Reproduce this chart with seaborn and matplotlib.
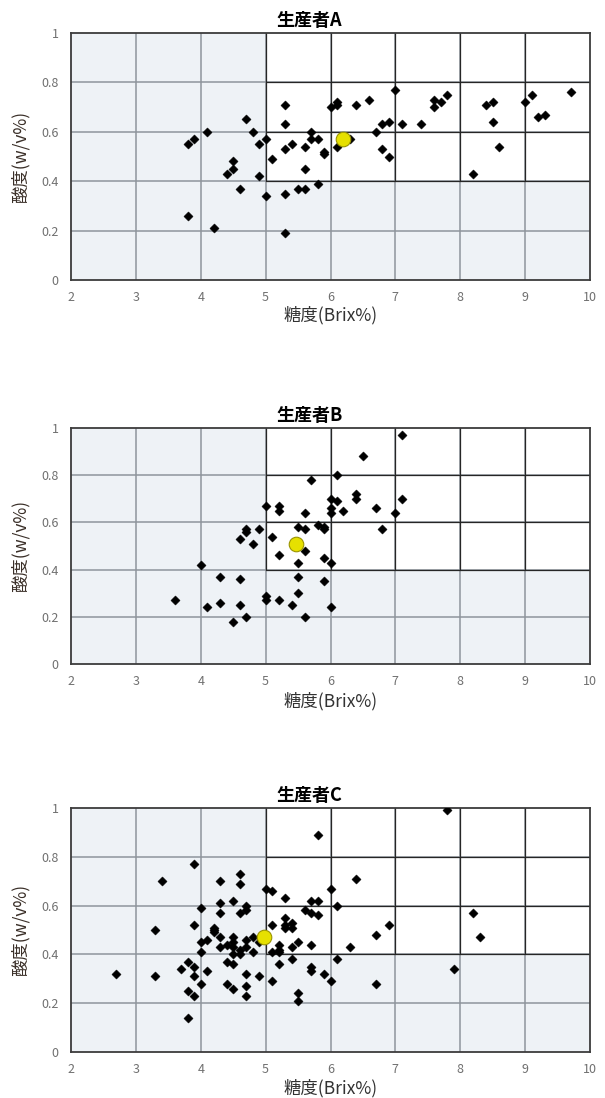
import seaborn as sns
import pandas as pd
import matplotlib.pyplot as plt
from matplotlib.patches import Rectangle

# 生産者A
a_brix = [3.8, 3.9, 4.1, 3.8, 4.2, 4.4, 4.5, 4.5, 4.6, 4.7, 4.8, 4.9, 4.9, 5.0, 5.0,
          5.1, 5.3, 5.3, 5.3, 5.3, 5.3, 5.4, 5.5, 5.6, 5.6, 5.6, 5.7, 5.7, 5.8, 5.8,
          5.9, 5.9, 6.0, 6.1, 6.1, 6.1, 6.3, 6.4, 6.6, 6.7, 6.8, 6.8, 6.9, 6.9, 7.0,
          7.1, 7.4, 7.6, 7.6, 7.7, 7.8, 8.2, 8.4, 8.5, 8.5, 8.6, 9.0, 9.1, 9.2, 9.3, 9.7]
a_acid = [0.55, 0.57, 0.60, 0.26, 0.21, 0.43, 0.48, 0.45, 0.37, 0.65, 0.60, 0.55, 0.42, 0.57, 0.34,
          0.49, 0.71, 0.63, 0.53, 0.35, 0.19, 0.55, 0.37, 0.37, 0.54, 0.45, 0.60, 0.57, 0.57, 0.39,
          0.52, 0.51, 0.70, 0.72, 0.71, 0.54, 0.57, 0.71, 0.73, 0.60, 0.63, 0.53, 0.64, 0.50, 0.77,
          0.63, 0.63, 0.73, 0.70, 0.72, 0.75, 0.43, 0.71, 0.72, 0.64, 0.54, 0.72, 0.75, 0.66, 0.67, 0.76]
a_mean = (6.2, 0.57)

# 生産者B
b_brix = [3.6, 4.0, 4.1, 4.3, 4.3, 4.5, 4.6, 4.6, 4.6, 4.7, 4.7, 4.7, 4.8, 4.9, 5.0,
          5.0, 5.0, 5.1, 5.2, 5.2, 5.2, 5.2, 5.4, 5.5, 5.5, 5.5, 5.5, 5.6, 5.6, 5.6,
          5.6, 5.7, 5.8, 5.9, 5.9, 5.9, 5.9, 6.0, 6.0, 6.0, 6.0, 6.0, 6.1, 6.1, 6.2,
          6.4, 6.4, 6.5, 6.7, 6.8, 7.0, 7.1, 7.1]
b_acid = [0.27, 0.42, 0.24, 0.37, 0.26, 0.18, 0.36, 0.25, 0.53, 0.57, 0.56, 0.20, 0.51, 0.57, 0.67,
          0.29, 0.27, 0.54, 0.67, 0.65, 0.46, 0.27, 0.25, 0.58, 0.43, 0.37, 0.30, 0.64, 0.57, 0.48,
          0.20, 0.78, 0.59, 0.58, 0.57, 0.45, 0.35, 0.70, 0.66, 0.64, 0.43, 0.24, 0.80, 0.69, 0.65,
          0.72, 0.70, 0.88, 0.66, 0.57, 0.64, 0.70, 0.97]
b_mean = (5.47, 0.51)

# 生産者C
c_brix = [2.7, 3.3, 3.3, 3.4, 3.7, 3.8, 3.8, 3.8, 3.9, 3.9, 3.9, 3.9, 3.9, 4.0, 4.0,
          4.0, 4.0, 4.1, 4.1, 4.2, 4.2, 4.2, 4.3, 4.3, 4.3, 4.3, 4.3, 4.4, 4.4, 4.4,
          4.5, 4.5, 4.5, 4.5, 4.5, 4.5, 4.5, 4.6, 4.6, 4.6, 4.6, 4.6, 4.7, 4.7, 4.7,
          4.7, 4.7, 4.7, 4.7, 4.8, 4.8, 4.9, 4.9, 5.0, 5.1, 5.1, 5.1, 5.1, 5.2, 5.2,
          5.2, 5.2, 5.3, 5.3, 5.3, 5.3, 5.4, 5.4, 5.4, 5.4, 5.5, 5.5, 5.5, 5.6, 5.7,
          5.7, 5.7, 5.7, 5.7, 5.8, 5.8, 5.8, 5.9, 6.0, 6.0, 6.1, 6.1, 6.3, 6.4, 6.7,
          6.7, 6.9, 7.8, 7.9, 8.2, 8.3]
c_acid = [0.32, 0.31, 0.50, 0.70, 0.34, 0.37, 0.25, 0.14, 0.77, 0.52, 0.35, 0.31, 0.23, 0.59, 0.45,
          0.41, 0.28, 0.33, 0.46, 0.51, 0.50, 0.49, 0.70, 0.61, 0.57, 0.47, 0.43, 0.44, 0.37, 0.28,
          0.62, 0.47, 0.45, 0.43, 0.40, 0.36, 0.26, 0.73, 0.69, 0.57, 0.42, 0.40, 0.60, 0.58, 0.46,
          0.43, 0.32, 0.27, 0.23, 0.47, 0.41, 0.45, 0.31, 0.67, 0.66, 0.52, 0.41, 0.29, 0.44, 0.42,
          0.41, 0.36, 0.63, 0.55, 0.52, 0.51, 0.53, 0.51, 0.43, 0.38, 0.45, 0.24, 0.21, 0.58, 0.62,
          0.57, 0.44, 0.35, 0.33, 0.62, 0.56, 0.89, 0.32, 0.67, 0.29, 0.60, 0.38, 0.43, 0.71, 0.48,
          0.28, 0.52, 0.99, 0.34, 0.57, 0.47]
c_mean = (4.98, 0.47)

titles = ['生産者A', '生産者B', '生産者C']
x_label = '糖度(Brix%)'
y_label = '酸度(w/v%)'
x_ticks = [2, 3, 4, 5, 6, 7, 8, 9, 10]
y_ticks = [0, 0.2, 0.4, 0.6, 0.8, 1.0]
y_tick_labels = ['0', '0.2', '0.4', '0.6', '0.8', '1']

sns.set_style('white')
plt.rcParams['font.family'] = ['Noto Sans CJK JP', 'DejaVu Sans']

SHADE = '#eef2f6'


def panel(ax, brix, acid, mean, title, xlabel_y):
    df = pd.DataFrame({'brix': brix, 'acid': acid})
    ax.set_xlim(2, 10)
    ax.set_ylim(0, 1)
    ax.set_facecolor(SHADE)
    # white quadrant: brix >= 5 and acid >= 0.4
    ax.add_patch(Rectangle((5, 0.4), 5, 0.6, facecolor='white', edgecolor='none', zorder=0.5))
    for x in x_ticks[1:-1]:
        ax.axvline(x, color='#8e959c', lw=1.1, zorder=1)
        if x >= 5:
            ax.plot([x, x], [0.4, 1], color='#262626', lw=0.9, zorder=1.1)
    for y in y_ticks[1:-1]:
        ax.axhline(y, color='#8e959c', lw=1.1, zorder=1)
        if y >= 0.4:
            ax.plot([5, 10], [y, y], color='#262626', lw=0.9, zorder=1.1)

    sns.scatterplot(data=df, x='brix', y='acid', marker='D', s=22, color='black',
                    edgecolor='black', linewidth=0.3, ax=ax, zorder=3)
    sns.scatterplot(x=[mean[0]], y=[mean[1]], marker='o', s=110, color='#e6e000',
                    edgecolor='#9a9400', linewidth=0.8, ax=ax, zorder=4)

    ax.set_xticks(x_ticks)
    ax.set_yticks(y_ticks)
    ax.set_yticklabels(y_tick_labels)
    ax.tick_params(axis='both', length=0, labelsize=9, labelcolor='#707070')
    ax.tick_params(axis='x', pad=8)
    ax.tick_params(axis='y', pad=9)
    for sp in ax.spines.values():
        sp.set_visible(True)
        sp.set_color('#3c3c3c')
        sp.set_linewidth(1.3)
    ax.set_title(title, fontsize=13, fontweight='bold', color='black', pad=5, x=0.46)
    ax.set_xlabel(x_label, fontsize=12.5, color='#333333')
    ax.set_ylabel(y_label, fontsize=12.5, color='#3a2f28')
    ax.xaxis.set_label_coords(0.5, xlabel_y)
    ax.yaxis.set_label_coords(-0.08, 0.5)


fig = plt.figure(figsize=(6.05, 10.98), dpi=100)
W, H = 605, 1098
boxes = [(33, 280), (428, 664), (808, 1052)]
data = [(a_brix, a_acid, a_mean), (b_brix, b_acid, b_mean), (c_brix, c_acid, c_mean)]
label_offsets = [26, 28, 27]
for (top, bottom), (bx, ac, mn), title, off in zip(boxes, data, titles, label_offsets):
    ax = fig.add_axes([71 / W, 1 - bottom / H, 519 / W, (bottom - top) / H])
    panel(ax, bx, ac, mn, title, -off / (bottom - top))

fig.savefig('out.png', dpi=100)
